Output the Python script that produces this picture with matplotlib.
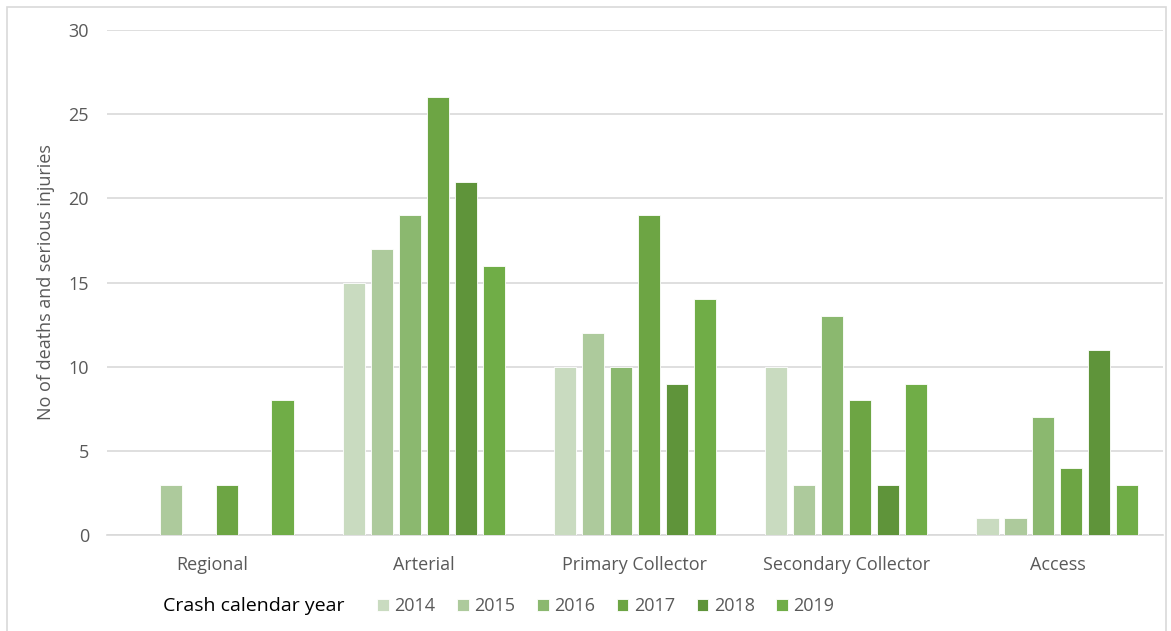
import numpy as np
import matplotlib.pyplot as plt
from matplotlib.patches import Rectangle

# chart data
categories = ['Regional', 'Arterial', 'Primary Collector', 'Secondary Collector', 'Access']
years = ['2014', '2015', '2016', '2017', '2018', '2019']
values = {
    '2014': [0, 15, 10, 10, 1],
    '2015': [3, 17, 12, 3, 1],
    '2016': [0, 19, 10, 13, 7],
    '2017': [3, 26, 19, 8, 4],
    '2018': [0, 21, 9, 3, 11],
    '2019': [8, 16, 14, 9, 3],
}
colors = ['#C9DBC0', '#ADCA9C', '#8BB86F', '#6DA544', '#5F943A', '#70AD47']

plt.rcParams['font.family'] = ['Open Sans', 'DejaVu Sans']

fig = plt.figure(figsize=(11.71, 6.31), dpi=100)
W, H = 1171, 631
ax = fig.add_axes([107 / W, 96 / H, (1163 - 107) / W, (535 - 30) / H])

x = np.arange(len(categories))
step = 0.1325
bar_w = 0.105
handles = []
for i, yr in enumerate(years):
    offs = (i - 2.5) * step
    b = ax.bar(x + offs, values[yr], width=bar_w, color=colors[i],
               edgecolor='white', linewidth=0.6, label=yr, zorder=3)
    handles.append(b)

ax.set_xlim(-0.5, len(categories) - 0.5)
ax.set_ylim(0, 30)
ax.set_yticks(range(0, 31, 5))
ax.set_xticks(x)
ax.set_xticklabels(categories)
ax.tick_params(axis='both', length=0, labelsize=13, colors='#595959')
ax.tick_params(axis='y', pad=13)
ax.tick_params(axis='x', pad=15)
ax.grid(axis='y', color='#D9D9D9', linewidth=1.2, zorder=0)
for s in ['top', 'right', 'left']:
    ax.spines[s].set_visible(False)
ax.spines['bottom'].set_color('#D9D9D9')
ax.spines['bottom'].set_linewidth(1.2)
ax.set_ylabel('No of deaths and serious injuries', fontsize=13, color='#595959', labelpad=10)

# legend row
fig.text(163 / W, 1 - 606 / H, 'Crash calendar year', fontsize=14, color='black', va='center', ha='left')
fig.legend(handles=handles, labels=years, loc='center left', bbox_to_anchor=(377 / W, 1 - 606 / H),
           ncol=6, frameon=False, fontsize=13, handlelength=0.65, handleheight=0.65,
           handletextpad=0.3, columnspacing=1.2, labelcolor='#595959', borderaxespad=0, borderpad=0)

# outer border
fig.patches.append(Rectangle((7 / W, -0.01), (1166 - 7) / W, 1 - 7 / H + 0.01, transform=fig.transFigure,
                             fill=False, edgecolor='#D9D9D9', linewidth=1.2))

fig.savefig('out.png', dpi=100, facecolor='white')
